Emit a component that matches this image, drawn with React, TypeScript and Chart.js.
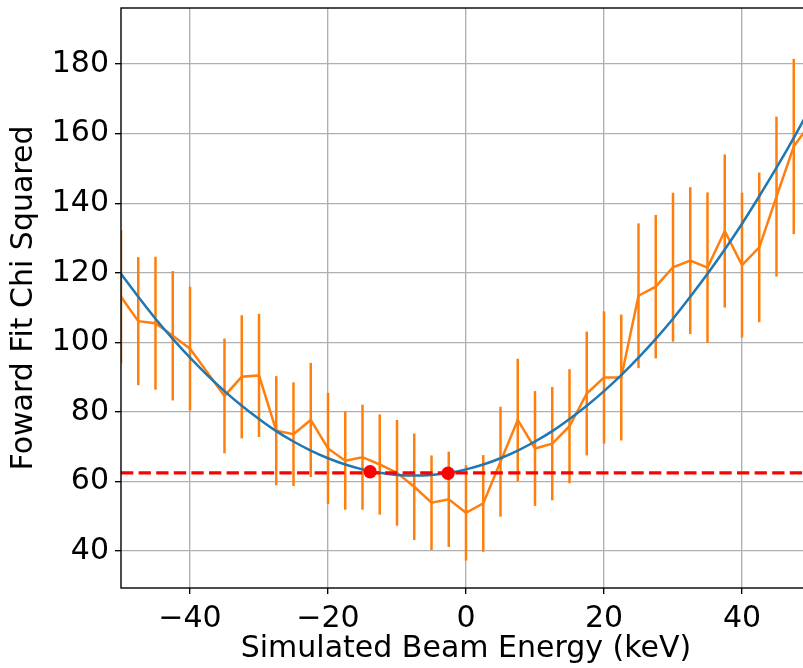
import React, { useEffect, useRef } from "react";
import { Chart, registerables } from "chart.js";

Chart.register(...registerables);

// Simulated beam energy (keV) for the measured points
const energies = [
  -50, -47.5, -45, -42.5, -40, -35, -32.5, -30, -27.5, -25, -22.5, -20, -17.5, -15, -12.5, -10,
  -7.5, -5, -2.5, 0, 2.5, 5, 7.5, 10, 12.5, 15, 17.5, 20, 22.5, 25, 27.5, 30, 32.5, 35, 37.5, 40,
  42.5, 45, 47.5, 50,
];
// Forward fit chi squared
const chiSq = [
  113.1, 106.1, 105.5, 101.9, 98.2, 84.6, 90.1, 90.5, 74.6, 73.6, 77.7, 69.5, 66.0, 67.0, 64.9,
  62.5, 58.5, 53.9, 54.9, 51.0, 53.7, 65.7, 77.7, 69.5, 70.9, 75.9, 85.3, 89.9, 89.9, 113.4, 116.0,
  121.6, 123.5, 121.5, 132.0, 122.2, 127.3, 141.9, 156.3, 163.2,
];
// Error bar half-lengths
const chiErr = [
  19.1, 18.4, 19.1, 18.6, 17.8, 16.5, 17.7, 17.7, 15.7, 14.9, 16.4, 16.0, 14.1, 15.1, 14.4, 15.2,
  15.3, 13.6, 13.7, 13.7, 13.9, 15.8, 17.6, 16.5, 16.3, 16.4, 17.8, 19.0, 18.1, 20.8, 20.6, 21.4,
  21.1, 21.6, 22.0, 20.8, 21.5, 23.0, 25.2, 25.5,
];
// Fitted curve
const fitEnergies = [
  -50, -47.5, -45, -42.5, -40, -37.5, -35, -32.5, -30, -27.5, -25, -22.5, -20, -17.5, -15, -12.5,
  -10, -7.5, -5, -2.5, 0, 2.5, 5, 7.5, 10, 12.5, 15, 17.5, 20, 22.5, 25, 27.5, 30, 32.5, 35, 37.5,
  40, 42.5, 45, 47.5, 50,
];
const fitChiSq = [
  119.7, 113.1, 106.8, 101.0, 95.6, 90.6, 86.0, 81.8, 78.0, 74.5, 71.5, 68.9, 66.7, 64.9, 63.5,
  62.5, 61.9, 61.7, 61.9, 62.5, 63.5, 64.9, 66.7, 68.9, 71.5, 74.5, 78.0, 81.8, 86.0, 90.6, 95.6,
  101.0, 106.8, 113.1, 119.7, 126.7, 134.1, 142.0, 150.2, 158.8, 167.8,
];
// Threshold line and marked points
const thresholdChi = 62.5;
const markerEnergies = [-13.9, -2.6];
const markerChi = [62.8, 62.4];
// Axis ticks
const xTicks = [-40, -20, 0, 20, 40];
const yTicks = [40, 60, 80, 100, 120, 140, 160, 180];

const ORANGE = "#ff7f0e";
const BLUE = "#1f77b4";
const RED = "#ff0000";
const FONT = "'DejaVu Sans', sans-serif";
const FONT_SIZE = 30;

const errorBarPlugin = {
  id: "errorBars",
  beforeDatasetsDraw(chart: any) {
    const { ctx, chartArea, scales } = chart;
    const x = scales.x;
    const y = scales.y;
    ctx.save();
    ctx.beginPath();
    ctx.rect(chartArea.left, chartArea.top, chartArea.right - chartArea.left, chartArea.bottom - chartArea.top);
    ctx.clip();
    ctx.strokeStyle = ORANGE;
    ctx.lineWidth = 2.5;
    energies.forEach((e, i) => {
      const px = x.getPixelForValue(e);
      ctx.beginPath();
      ctx.moveTo(px, y.getPixelForValue(chiSq[i] - chiErr[i]));
      ctx.lineTo(px, y.getPixelForValue(chiSq[i] + chiErr[i]));
      ctx.stroke();
    });
    ctx.restore();
  },
};

const framePlugin = {
  id: "frame",
  afterDatasetsDraw(chart: any) {
    const { ctx, chartArea } = chart;
    ctx.save();
    ctx.strokeStyle = "#000";
    ctx.lineWidth = 1.4;
    ctx.strokeRect(chartArea.left, chartArea.top, chartArea.right - chartArea.left, chartArea.bottom - chartArea.top);
    ctx.restore();
  },
};

const fmt = (v: number) => (v < 0 ? "\u2212" + Math.abs(v) : String(v));

export default function App() {
  const ref = useRef<HTMLCanvasElement | null>(null);

  useEffect(() => {
    document.body.style.margin = "0";
    const canvas = ref.current;
    if (!canvas) return;
    const chart = new Chart(canvas, {
      type: "line",
      data: {
        datasets: [
          {
            label: "data",
            data: energies.map((e, i) => ({ x: e, y: chiSq[i] })),
            borderColor: ORANGE,
            borderWidth: 2.5,
            pointRadius: 0,
            tension: 0,
            order: 4,
          },
          {
            label: "fit",
            data: fitEnergies.map((e, i) => ({ x: e, y: fitChiSq[i] })),
            borderColor: BLUE,
            borderWidth: 2.5,
            pointRadius: 0,
            tension: 0.3,
            order: 3,
          },
          {
            label: "threshold",
            data: [
              { x: -50, y: thresholdChi },
              { x: 50, y: thresholdChi },
            ],
            borderColor: RED,
            borderWidth: 3.2,
            borderDash: [12.3, 5.3],
            pointRadius: 0,
            order: 2,
          },
          {
            label: "markers",
            data: markerEnergies.map((e, i) => ({ x: e, y: markerChi[i] })),
            showLine: false,
            pointRadius: 6.7,
            pointBackgroundColor: RED,
            pointBorderWidth: 0,
            borderColor: RED,
            order: 1,
          },
        ],
      },
      options: {
        responsive: false,
        animation: false,
        devicePixelRatio: 1,
        layout: { autoPadding: false, padding: { top: 8, right: 0, left: 0, bottom: 0 } },
        plugins: { legend: { display: false }, tooltip: { enabled: false } },
        scales: {
          x: {
            type: "linear",
            min: -50,
            max: 50,
            afterFit: (s: any) => {
              s.height = 80;
              s.paddingLeft = 0;
              s.paddingRight = 0;
            },
            afterBuildTicks: (s: any) => {
              s.ticks = xTicks.map((v) => ({ value: v }));
            },
            border: { display: false },
            grid: { color: "#b0b0b0", lineWidth: 1.35, tickColor: "#000", tickLength: 6, tickWidth: 1.35 },
            ticks: {
              color: "#000",
              font: { family: FONT, size: FONT_SIZE },
              padding: 7,
              maxRotation: 0,
              callback: (v: any) => fmt(Number(v)),
            },
            title: {
              display: true,
              text: "Simulated Beam Energy (keV)",
              color: "#000",
              font: { family: FONT, size: FONT_SIZE },
              padding: { top: 0, bottom: 1 },
            },
          },
          y: {
            type: "linear",
            min: 29.4,
            max: 196.1,
            afterFit: (s: any) => {
              s.width = 121;
              s.paddingTop = 0;
              s.paddingBottom = 0;
            },
            afterBuildTicks: (s: any) => {
              s.ticks = yTicks.map((v) => ({ value: v }));
            },
            border: { display: false },
            grid: { color: "#b0b0b0", lineWidth: 1.35, tickColor: "#000", tickLength: 6, tickWidth: 1.35 },
            ticks: {
              color: "#000",
              font: { family: FONT, size: FONT_SIZE },
              padding: 6,
              callback: (v: any) => fmt(Number(v)),
            },
            title: {
              display: true,
              text: "Foward Fit Chi Squared",
              color: "#000",
              font: { family: FONT, size: FONT_SIZE },
              padding: { top: 6, bottom: 0 },
            },
          },
        },
      },
      plugins: [errorBarPlugin, framePlugin],
    } as any);
    return () => chart.destroy();
  }, []);

  return (
    <div style={{ width: 803, height: 668, overflow: "hidden" }}>
      <canvas ref={ref} width={811} height={668} style={{ display: "block" }} />
    </div>
  );
}
